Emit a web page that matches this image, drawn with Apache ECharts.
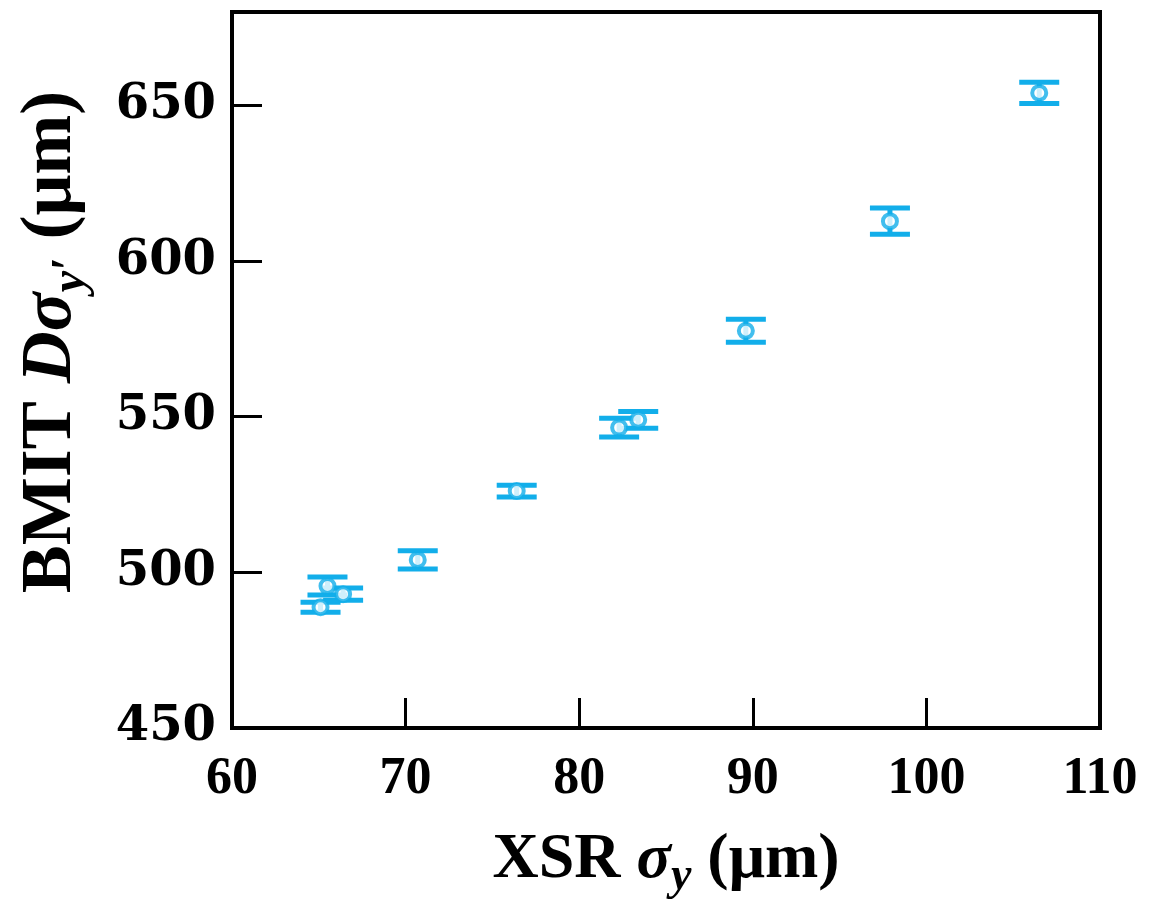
<!DOCTYPE html>
<html>
<head>
<meta charset="utf-8">
<script src="https://cdn.jsdelivr.net/npm/echarts@6/dist/echarts.min.js"></script>
<style>
html,body{margin:0;padding:0;background:#fff;}
#chart{width:1165px;height:911px;}
</style>
</head>
<body>
<div id="chart"></div>
<script>
// Data
var xsrSigmaY = [65.1, 65.5, 66.4, 70.7, 76.4, 82.3, 83.4, 89.6, 97.9, 106.5];
var bmitSigma = [488.8, 495.6, 493.0, 504.0, 526.1, 546.5, 549.0, 577.6, 612.8, 654.0];
var bmitErr   = [1.6, 2.9, 2.0, 2.9, 1.9, 3.0, 2.7, 3.7, 4.2, 3.4];
var xTicks = [60, 70, 80, 90, 100, 110];
var yTicks = [450, 500, 550, 600, 650];

var COLOR = '#12aeea';
var points = xsrSigmaY.map(function (x, i) { return [x, bmitSigma[i]]; });
var errData = xsrSigmaY.map(function (x, i) { return [x, bmitSigma[i] - bmitErr[i], bmitSigma[i] + bmitErr[i]]; });

var chart = echarts.init(document.getElementById('chart'), null, {renderer: 'canvas'});
chart.setOption({
  backgroundColor: '#fff',
  animation: false,
  grid: {left: 232, right: 65, top: 12, bottom: 183, show: true, borderColor: '#000', borderWidth: 4, backgroundColor: 'transparent'},
  xAxis: {
    type: 'value', min: xTicks[0], max: xTicks[xTicks.length - 1], interval: 10,
    splitLine: {show: false},
    axisLine: {show: true, lineStyle: {color: '#000', width: 4}},
    axisTick: {show: true, inside: true, length: 30, lineStyle: {color: '#000', width: 3}},
    axisLabel: {color: '#000', fontFamily: 'Liberation Serif', fontWeight: 'bold', fontSize: 52, margin: 26},
    name: '{b|XSR }{i|σ}{s|y}{b| (μm)}',
    nameLocation: 'middle', nameGap: 92,
    nameTextStyle: {
      rich: {
        b: {fontFamily: 'Liberation Serif', fontWeight: 'bold', fontSize: 64, color: '#000', lineHeight: 80},
        i: {fontFamily: 'Liberation Serif', fontWeight: 'bold', fontStyle: 'italic', fontSize: 64, color: '#000', lineHeight: 80},
        s: {fontFamily: 'Liberation Serif', fontWeight: 'bold', fontStyle: 'italic', fontSize: 46, color: '#000', lineHeight: 46, verticalAlign: 'bottom'}
      }
    }
  },
  yAxis: {
    type: 'value', min: yTicks[0], max: 680, interval: 50,
    splitLine: {show: false},
    axisLine: {show: true, lineStyle: {color: '#000', width: 4}},
    axisTick: {show: true, inside: true, length: 30, lineStyle: {color: '#000', width: 3}},
    axisLabel: {color: '#000', fontFamily: 'DejaVu Serif', fontWeight: 'bold', fontSize: 48, margin: 16, showMaxLabel: false},
    name: '{b|BMIT }{i|Dσ}{s|y′}{b| (μm)}',
    nameLocation: 'middle', nameGap: 136,
    nameTextStyle: {
      padding: [0, 0, 0, 56],
      rich: {
        b: {fontFamily: 'Liberation Serif', fontWeight: 'bold', fontSize: 72, color: '#000', lineHeight: 90},
        i: {fontFamily: 'Liberation Serif', fontWeight: 'bold', fontStyle: 'italic', fontSize: 72, color: '#000', lineHeight: 90},
        s: {fontFamily: 'Liberation Serif', fontWeight: 'bold', fontStyle: 'italic', fontSize: 48, color: '#000', lineHeight: 48, verticalAlign: 'bottom'}
      }
    }
  },
  series: [
    {
      type: 'custom',
      data: errData,
      z: 2,
      renderItem: function (params, api) {
        var x = api.value(0);
        var lo = api.coord([x, api.value(1)]);
        var hi = api.coord([x, api.value(2)]);
        var hw = 20;
        var st = {stroke: COLOR, lineWidth: 5};
        return {
          type: 'group',
          children: [
            {type: 'line', shape: {x1: lo[0], y1: lo[1], x2: hi[0], y2: hi[1]}, style: st},
            {type: 'line', shape: {x1: lo[0] - hw, y1: lo[1], x2: lo[0] + hw, y2: lo[1]}, style: st},
            {type: 'line', shape: {x1: hi[0] - hw, y1: hi[1], x2: hi[0] + hw, y2: hi[1]}, style: st}
          ]
        };
      }
    },
    {
      type: 'scatter',
      data: points,
      z: 3,
      symbol: 'circle',
      symbolSize: 14,
      itemStyle: {color: '#fff', borderColor: COLOR, borderWidth: 4}
    }
  ]
});
</script>
</body>
</html>
